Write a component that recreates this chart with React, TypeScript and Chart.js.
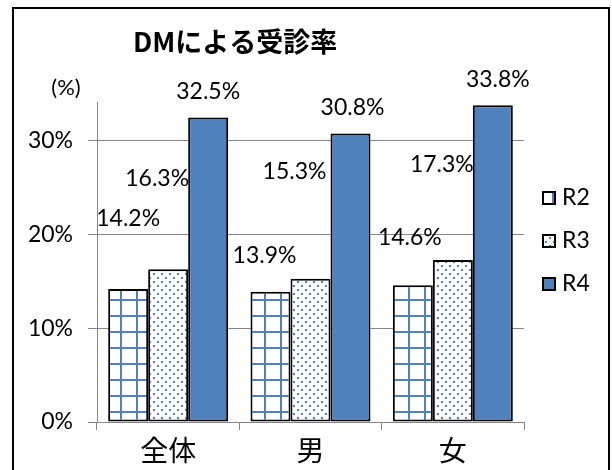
import React, { useEffect, useRef } from 'react';
import { Chart, registerables } from 'chart.js';
Chart.register(...registerables);

const categories = ['全体', '男', '女'];
const seriesNames = ['R2', 'R3', 'R4'];
const r2Values = [14.2, 13.9, 14.6];
const r3Values = [16.3, 15.3, 17.3];
const r4Values = [32.5, 30.8, 33.8];
const yTickValues = [0, 10, 20, 30];
const chartTitle = 'DMによる受診率';
const unitLabel = '(%)';

// style: manual label offsets (dx, dy) relative to each bar's top centre
const labelOffsets = [
  [[0, -70], [-6, -36], [-3, -48]],
  [[-11, -91], [-16, -107], [-11, -95]],
  [[0, -26], [2, -25.5], [5, -26]],
];

const BLUE = '#4F81BD';
const GRID = '#868686';
const LATIN = "Lato, 'Noto Sans CJK JP', sans-serif";
const CJK = "'Noto Sans CJK JP', sans-serif";

function makeGridPattern(ctx: CanvasRenderingContext2D) {
  const c = document.createElement('canvas');
  c.width = 16; c.height = 16;
  const g = c.getContext('2d')!;
  g.fillStyle = '#ffffff';
  g.fillRect(0, 0, 16, 16);
  g.fillStyle = BLUE;
  g.fillRect(0, 11, 16, 2);
  g.fillRect(8, 0, 2, 16);
  return ctx.createPattern(c, 'repeat')!;
}

function makeDotPattern(ctx: CanvasRenderingContext2D) {
  const c = document.createElement('canvas');
  c.width = 8; c.height = 8;
  const g = c.getContext('2d')!;
  g.fillStyle = '#ffffff';
  g.fillRect(0, 0, 8, 8);
  g.fillStyle = BLUE;
  g.fillRect(1, 1, 2, 2);
  g.fillRect(5, 5, 2, 2);
  return ctx.createPattern(c, 'repeat')!;
}

const decorPlugin = {
  id: 'decor',
  afterDraw(chart: any) {
    const ctx: CanvasRenderingContext2D = chart.ctx;
    ctx.save();
    // outer frame
    ctx.strokeStyle = '#000';
    ctx.lineWidth = 2;
    ctx.strokeRect(13, 8, 596, 480);

    // title
    ctx.fillStyle = '#000';
    ctx.font = `bold 27px ${CJK}`;
    ctx.textAlign = 'left';
    ctx.textBaseline = 'middle';
    ctx.fillText(chartTitle, 133, 42);

    // unit label
    ctx.font = `22px ${LATIN}`;
    ctx.textAlign = 'center';
    ctx.fillText(unitLabel, 66, 88);

    // data labels
    ctx.font = `23px ${LATIN}`;
    chart.data.datasets.forEach((ds: any, i: number) => {
      const meta = chart.getDatasetMeta(i);
      meta.data.forEach((el: any, j: number) => {
        const [dx, dy] = labelOffsets[i][j];
        const v = ds.data[j];
        ctx.fillText(v.toFixed(1) + '%', el.x + dx, el.y + dy);
      });
    });

    // legend
    const legendX = 543;
    const legendY0 = 198;
    const legendStep = 43;
    chart.data.datasets.forEach((ds: any, i: number) => {
      const cy = legendY0 + i * legendStep;
      ctx.fillStyle = ds.backgroundColor;
      ctx.fillRect(legendX, cy - 6, 12, 12);
      ctx.strokeStyle = '#000';
      ctx.lineWidth = 2;
      ctx.strokeRect(legendX, cy - 6, 12, 12);
      ctx.fillStyle = '#000';
      ctx.font = `23px ${LATIN}`;
      ctx.textAlign = 'left';
      ctx.textBaseline = 'middle';
      ctx.fillText(ds.label, legendX + 19, cy);
    });
    ctx.restore();
  },
};

export default function App() {
  const ref = useRef<HTMLCanvasElement>(null);
  useEffect(() => {
    const canvas = ref.current!;
    const ctx = canvas.getContext('2d')!;
    const fills = [makeGridPattern(ctx), makeDotPattern(ctx), BLUE];
    const values = [r2Values, r3Values, r4Values];
    const chart = new Chart(canvas, {
      type: 'bar',
      data: {
        labels: categories,
        datasets: seriesNames.map((name, i) => ({
          label: name,
          data: values[i],
          backgroundColor: fills[i] as any,
          borderColor: '#000',
          borderWidth: 2,
          borderSkipped: false,
          categoryPercentage: 0.843,
          barPercentage: 1,
        })),
      },
      options: {
        responsive: false,
        animation: false,
        layout: { padding: { left: 0, right: 88, top: 102, bottom: 0 } },
        plugins: {
          legend: { display: false },
          title: { display: false },
          tooltip: { enabled: false },
        },
        scales: {
          x: {
            afterFit: (s: any) => { s.height = 48; },
            grid: {
              display: true,
              drawOnChartArea: false,
              drawTicks: true,
              tickLength: 8,
              color: GRID,
              lineWidth: 1,
              offset: true,
            },
            border: { display: true, color: GRID, width: 1 },
            ticks: {
              color: '#000',
              font: { family: CJK, size: 28 },
              padding: 4,
            },
          },
          y: {
            min: 0,
            max: 34.16,
            afterFit: (s: any) => { s.width = 97; },
            afterBuildTicks: (s: any) => {
              s.ticks = yTickValues.map((v) => ({ value: v }));
            },
            grid: {
              color: GRID,
              lineWidth: 1,
              drawTicks: true,
              tickLength: 9,
            },
            border: { display: true, color: GRID, width: 1 },
            ticks: {
              color: '#000',
              font: { family: LATIN, size: 23 },
              padding: 15,
              callback: (v: any) => v + '%',
            },
          },
        },
      },
      plugins: [decorPlugin],
    });
    return () => chart.destroy();
  }, []);
  return (
    <div style={{ position: 'fixed', left: 0, top: 0, width: 612, height: 470, background: '#fff' }}>
      <canvas ref={ref} width={612} height={470} />
    </div>
  );
}
